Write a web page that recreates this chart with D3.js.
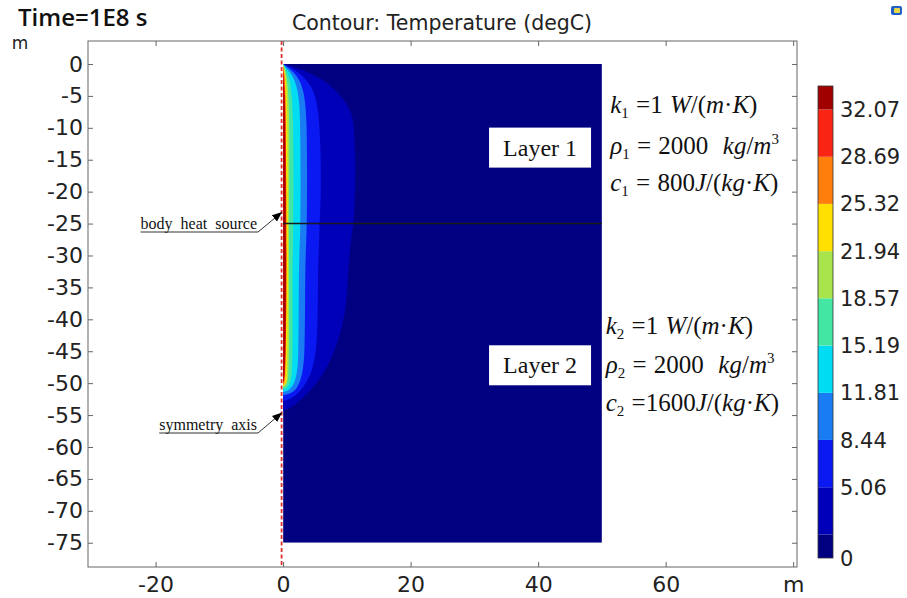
<!DOCTYPE html>
<html>
<head>
<meta charset="utf-8">
<script src="https://cdn.jsdelivr.net/npm/d3@7"></script>
<style>
  body { margin: 0; background: #fff; }
  svg { display: block; }
  text { white-space: pre; }
</style>
</head>
<body>
<svg id="chart" width="907" height="598"></svg>
<script>
// axis ticks
const xTicks = [-20, 0, 20, 40, 60, 80];
const xTickLabels = ["-20", "0", "20", "40", "60", "m"];
const yTicks = [0, -5, -10, -15, -20, -25, -30, -35, -40, -45, -50, -55, -60, -65, -70, -75];

// model geometry (m)
const modelX = [0, 50];
const modelY = [0, -75];
const layerY = -25;

// contour levels (degC) and colour bar labels
const levels = [0, 1.69, 5.06, 8.44, 11.81, 15.19, 18.57, 21.94, 25.32, 28.69, 32.07, 33.75];
const barLabels = [0, 5.06, 8.44, 11.81, 15.19, 18.57, 21.94, 25.32, 28.69, 32.07];

// contour outlines, [r (m), z (m)]
const c169 = [[0,0],[1.2,-0.3],[3.2,-1],[5.2,-2],[6.9,-3],[9.5,-5.6],[10.8,-8.2],[11.2,-12],[11.3,-18],[11.1,-24],[10.6,-28],[10.2,-33],[9.8,-38],[9.0,-42],[7.6,-46],[5.6,-49.5],[3.2,-52.2],[1.2,-53.8],[0,-54.3]];
const c506 = [[0,0],[0.8,-0.4],[2.2,-1.2],[3.6,-2.5],[4.6,-4],[5.4,-7],[5.8,-12],[5.9,-20],[5.7,-26],[5.5,-32],[5.4,-40],[5.1,-45],[4.3,-48.5],[3.0,-50.8],[1.5,-52.2],[0,-52.8]];
const c844 = [[0,0],[0.5,-0.4],[1.5,-1.2],[2.5,-2.5],[3.2,-4.5],[3.6,-8],[3.75,-15],[3.7,-25],[3.5,-32],[3.4,-42],[3.2,-47],[2.6,-49.8],[1.6,-51.3],[0,-51.9]];
const c1181 = [[0,0],[0.4,-0.5],[1.2,-1.5],[2.0,-3.2],[2.5,-6],[2.7,-12],[2.7,-25],[2.5,-32],[2.4,-44],[2.2,-48],[1.6,-50.2],[0.8,-51.1],[0,-51.4]];
const c1519 = [[0,0],[0.3,-0.6],[0.9,-2],[1.3,-4.5],[1.55,-9],[1.6,-25],[1.5,-32],[1.45,-46],[1.2,-49.5],[0.6,-50.7],[0,-51]];
const c1857 = [[0,0],[0.25,-0.8],[0.6,-2.5],[0.88,-6],[0.92,-25],[0.86,-47],[0.6,-50],[0,-50.7]];
const c2194 = [[0,0],[0.2,-1],[0.45,-3],[0.62,-7],[0.62,-47],[0.4,-50],[0,-50.5]];
const c2532 = [[0,-0.2],[0.2,-1.5],[0.36,-5],[0.36,-48],[0.2,-50],[0,-50.3]];
const c2869 = [[0,-0.5],[0.28,-4],[0.28,-48.5],[0,-50.2]];
const c3207 = [[0,-1],[0.22,-5],[0.22,-48.5],[0,-50]];
const contourLines = [c169, c506, c844, c1181, c1519, c1857, c2194, c2532, c2869, c3207];

// text
const layerNames = ["Layer 1", "Layer 2"];
const layer1Props = [
  [["k","i"],["1","sub"],[" =1 ",""],["W","i"],["/(",""],["m","i"],["·",""],["K","i"],[")",""]],
  [["ρ","i"],["1","sub"],[" = 2000  ",""],["kg","i"],["/",""],["m","i"],["3","sup"]],
  [["c","i"],["1","sub"],[" = 800",""],["J","i"],["/(",""],["kg","i"],["·",""],["K","i"],[")",""]]
];
const layer2Props = [
  [["k","i"],["2","sub"],[" =1 ",""],["W","i"],["/(",""],["m","i"],["·",""],["K","i"],[")",""]],
  [["ρ","i"],["2","sub"],[" = 2000  ",""],["kg","i"],["/",""],["m","i"],["3","sup"]],
  [["c","i"],["2","sub"],[" =1600",""],["J","i"],["/(",""],["kg","i"],["·",""],["K","i"],[")",""]]
];

const bandColors = ["#000080", "#0000b8", "#0a18f2", "#1a7cf2", "#00dcf2", "#44e6a4",
                    "#a8e44c", "#ffe000", "#ff7e0c", "#fa2414", "#a00000"];
const sans = "'DejaVu Sans', sans-serif";
const serif = "'Liberation Serif', 'Times New Roman', serif";

const svg = d3.select("#chart");

// scales (equal aspect, m)
const x = d3.scaleLinear().domain([-30.6, 80.6]).range([88, 797]);
const y = d3.scaleLinear().domain([3.6, -78.8]).range([41, 567]);
const cb = d3.scaleLinear().domain([levels[0], levels[levels.length - 1]]).range([558, 86]);

// titles
svg.append("text").attr("x", 18).attr("y", 26)
  .attr("font-family", "'Open Sans', sans-serif").attr("font-weight", 600)
  .attr("font-size", 24).attr("fill", "#111")
  .text("Time=1E8 s");
svg.append("text").attr("x", 442).attr("y", 30).attr("text-anchor", "middle")
  .attr("font-family", sans).attr("font-size", 20.5).attr("fill", "#222")
  .text("Contour: Temperature (degC)");
svg.append("text").attr("x", 20).attr("y", 49).attr("text-anchor", "middle")
  .attr("font-family", sans).attr("font-size", 17).attr("fill", "#222")
  .text("m");

// model field
const defs = svg.append("defs");
defs.append("clipPath").attr("id", "field")
  .append("rect")
  .attr("x", x(modelX[0])).attr("y", y(modelY[0]))
  .attr("width", x(modelX[1]) - x(modelX[0])).attr("height", y(modelY[1]) - y(modelY[0]));

const field = svg.append("g").attr("clip-path", "url(#field)");
field.append("rect")
  .attr("x", x(modelX[0])).attr("y", y(modelY[0]))
  .attr("width", x(modelX[1]) - x(modelX[0])).attr("height", y(modelY[1]) - y(modelY[0]))
  .attr("fill", bandColors[0]);

const contour = d3.line()
  .x(d => x(d[0])).y(d => y(d[1]))
  .curve(d3.curveCatmullRom.alpha(0.5));

field.selectAll("path.band")
  .data(contourLines)
  .join("path")
  .attr("class", "band")
  .attr("d", d => contour(d) + "Z")
  .attr("fill", (d, i) => bandColors[i + 1]);

// layer boundary
svg.append("line")
  .attr("x1", x(modelX[0])).attr("x2", x(modelX[1]))
  .attr("y1", y(layerY)).attr("y2", y(layerY))
  .attr("stroke", "#1a1a1a").attr("stroke-width", 1.5);

// symmetry axis
svg.append("line")
  .attr("x1", x(0) - 1.5).attr("x2", x(0) - 1.5)
  .attr("y1", 41).attr("y2", 567)
  .attr("stroke", "#e4302a").attr("stroke-width", 1.8)
  .attr("stroke-dasharray", "4,2.5");

// axes with inward ticks
const axisColor = "#666";
function styleAxis(g) {
  g.select(".domain").remove();
  g.selectAll(".tick line").attr("stroke", axisColor);
  g.selectAll(".tick text").attr("font-family", sans).attr("font-size", 22).attr("fill", "#222");
}
svg.append("g").attr("transform", "translate(0,567)")
  .call(d3.axisBottom(x).tickValues(xTicks).tickSizeInner(-5).tickSizeOuter(0).tickPadding(9)
    .tickFormat((d, i) => xTickLabels[i]))
  .call(styleAxis);
svg.append("g").attr("transform", "translate(0,41)")
  .call(d3.axisTop(x).tickValues(xTicks).tickSizeInner(-5).tickSizeOuter(0).tickFormat(""))
  .call(styleAxis);
svg.append("g").attr("transform", "translate(88,0)")
  .call(d3.axisLeft(y).tickValues(yTicks).tickSizeInner(-5).tickSizeOuter(0).tickPadding(5)
    .tickFormat(d => d === 0 ? "0" : String(d)))
  .call(styleAxis);
svg.append("g").attr("transform", "translate(797,0)")
  .call(d3.axisRight(y).tickValues(yTicks).tickSizeInner(-5).tickSizeOuter(0).tickFormat(""))
  .call(styleAxis);

svg.append("rect")
  .attr("x", 88).attr("y", 41).attr("width", 797 - 88).attr("height", 567 - 41)
  .attr("fill", "none").attr("stroke", axisColor).attr("stroke-width", 1);

// layer boxes
const layerCentres = [-13.1, -47.2];
layerNames.forEach((name, i) => {
  const cx = x(40.3), cy = y(layerCentres[i]);
  svg.append("rect")
    .attr("x", cx - 51).attr("y", cy - 20).attr("width", 102).attr("height", 40)
    .attr("fill", "#fff");
  svg.append("text")
    .attr("x", cx).attr("y", cy + 8).attr("text-anchor", "middle")
    .attr("font-family", serif).attr("font-size", 24).attr("fill", "#111")
    .text(name);
});

// material properties
function writeFormula(sel, segs) {
  let shift = 0;
  segs.forEach(([t, s]) => {
    const want = s === "sub" ? 5 : s === "sup" ? -10 : 0;
    sel.append("tspan")
      .attr("dy", want - shift)
      .attr("font-style", s === "i" ? "italic" : "normal")
      .attr("font-size", s === "sub" || s === "sup" ? 15 : null)
      .text(t);
    shift = want;
  });
}
function propBlock(lines, px, rows) {
  lines.forEach((segs, i) => {
    const t = svg.append("text")
      .attr("x", px).attr("y", rows[i])
      .attr("font-family", serif).attr("font-size", 25).attr("fill", "#111")
      .attr("word-spacing", 1);
    writeFormula(t, segs);
  });
}
propBlock(layer1Props, x(51.3), [113, 154, 191]);
propBlock(layer2Props, x(50.6), [334, 373, 411]);

// annotations
defs.append("marker").attr("id", "arrow")
  .attr("viewBox", "0 0 10 8").attr("refX", 10).attr("refY", 4)
  .attr("markerWidth", 10).attr("markerHeight", 8)
  .attr("markerUnits", "userSpaceOnUse").attr("orient", "auto")
  .append("path").attr("d", "M0,0L10,4L0,8Z").attr("fill", "#000");

const notes = [
  { text: "body heat source", tip: [0, -23.2], baseY: 229 },
  { text: "symmetry axis", tip: [0, -54.6], baseY: 430 }
];
notes.forEach(n => {
  const endX = 258;
  const t = svg.append("text")
    .attr("x", endX - 1).attr("y", n.baseY).attr("text-anchor", "end")
    .attr("font-family", serif).attr("font-size", 16).attr("word-spacing", 4)
    .attr("fill", "#111").text(n.text);
  const w = t.node().getComputedTextLength();
  svg.append("line")
    .attr("x1", endX - 1 - w).attr("x2", endX)
    .attr("y1", n.baseY + 3).attr("y2", n.baseY + 3)
    .attr("stroke", "#333").attr("stroke-width", 1);
  svg.append("line")
    .attr("x1", endX).attr("y1", n.baseY + 3)
    .attr("x2", x(n.tip[0]) - 1).attr("y2", y(n.tip[1]))
    .attr("stroke", "#333").attr("stroke-width", 1)
    .attr("marker-end", "url(#arrow)");
});

// colour bar
const bar = svg.append("g");
bar.selectAll("rect")
  .data(d3.range(levels.length - 1))
  .join("rect")
  .attr("x", 818).attr("width", 15)
  .attr("y", i => cb(levels[i + 1]))
  .attr("height", i => cb(levels[i]) - cb(levels[i + 1]))
  .attr("fill", i => bandColors[i]);
bar.append("rect")
  .attr("x", 818).attr("y", 86).attr("width", 15).attr("height", 558 - 86)
  .attr("fill", "none").attr("stroke", "#333").attr("stroke-width", 0.8);
bar.selectAll("text")
  .data(barLabels)
  .join("text")
  .attr("x", 840).attr("y", d => cb(d)).attr("dy", "0.36em")
  .attr("font-family", sans).attr("font-size", 21).attr("fill", "#222")
  .text(d => d === 0 ? "0" : d.toFixed(2));

// small toolbar icon
svg.append("rect").attr("x", 891).attr("y", 6).attr("width", 11).attr("height", 9).attr("rx", 2)
  .attr("fill", "#1f5fc8");
svg.append("rect").attr("x", 894).attr("y", 8).attr("width", 6).attr("height", 5).attr("rx", 1)
  .attr("fill", "#e6d84a");
</script>
</body>
</html>
